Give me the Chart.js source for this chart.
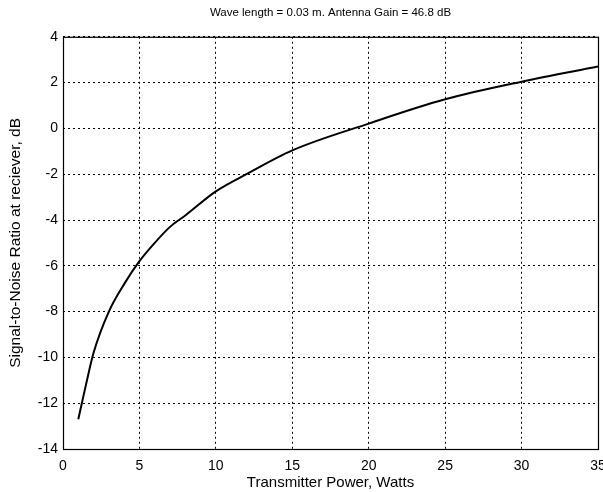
<!DOCTYPE html>
<html>
<head>
<meta charset="utf-8">
<script src="https://cdn.jsdelivr.net/npm/chart.js@4/dist/chart.umd.min.js"></script>
<style>
  html,body{margin:0;padding:0;background:#fff;}
  #wrap{width:603px;height:492px;}
</style>
</head>
<body>
<div id="wrap"><canvas id="c"></canvas></div>
<script>
// values
const powerW = [1, 1.5, 2, 3, 4, 5, 6, 7, 8, 10, 12, 15, 20, 25, 30, 35];
const snrDb  = [-12.7, -11.2, -9.8, -8.0, -6.8, -5.8, -5.0, -4.3, -3.8, -2.75, -2.0, -0.96, 0.21, 1.27, 2.04, 2.7];
const xTicks = [0, 5, 10, 15, 20, 25, 30, 35];
const yTicks = [-14, -12, -10, -8, -6, -4, -2, 0, 2, 4];

const fam = '"Liberation Sans", Arial, sans-serif';
const tickFont = {family:fam, size:14};
const gridStyle = {color:'#000', lineWidth:1, drawTicks:false};
const borderStyle = {display:false, dash:[2,3]};

// box round the plot area
const frame = {
  id:'frame',
  afterDraw(chart){
    const {ctx, chartArea:a} = chart;
    ctx.save();
    ctx.strokeStyle = '#000'; ctx.lineWidth = 1.2;
    ctx.strokeRect(a.left+0.5, a.top+0.5, a.right-a.left, a.bottom-a.top);
    ctx.restore();
  }
};

new Chart(document.getElementById('c'), {
  type:'line',
  data:{ datasets:[{
    data: powerW.map((p,i)=>({x:p, y:snrDb[i]})),
    borderColor:'#000', borderWidth:2, pointRadius:0,
    cubicInterpolationMode:'monotone', fill:false
  }] },
  options:{
    responsive:true, maintainAspectRatio:false, animation:false,
    layout:{padding:{right:5}},
    plugins:{
      legend:{display:false}, tooltip:{enabled:false},
      title:{display:true, fullSize:false, text:'Wave length = 0.03 m. Antenna Gain = 46.8 dB',
        color:'#000', font:{family:fam, size:11.5, weight:'normal'}, padding:{top:6, bottom:17}}
    },
    scales:{
      x:{ type:'linear', min:0, max:35,
        afterBuildTicks: s => { s.ticks = xTicks.map(v=>({value:v})); },
        afterFit: s => { s.height = 43; s.paddingLeft = 0; s.paddingRight = 0; },
        grid:gridStyle, border:borderStyle,
        ticks:{color:'#000', font:tickFont, padding:9, maxRotation:0},
        title:{display:true, text:'Transmitter Power, Watts', color:'#000',
          font:{family:fam, size:15}, padding:{top:0, bottom:0}}
      },
      y:{ min:-14, max:4,
        afterBuildTicks: s => { s.ticks = yTicks.map(v=>({value:v})); },
        afterFit: s => { s.width = 63; s.paddingTop = 0; s.paddingBottom = 0; },
        grid:gridStyle, border:borderStyle,
        ticks:{color:'#000', font:tickFont, padding:5},
        title:{display:true, text:'Signal-to-Noise Ratio at reciever, dB', color:'#000',
          font:{family:fam, size:15.5}, padding:{top:6, bottom:0}}
      }
    }
  },
  plugins:[frame]
});
</script>
</body>
</html>
